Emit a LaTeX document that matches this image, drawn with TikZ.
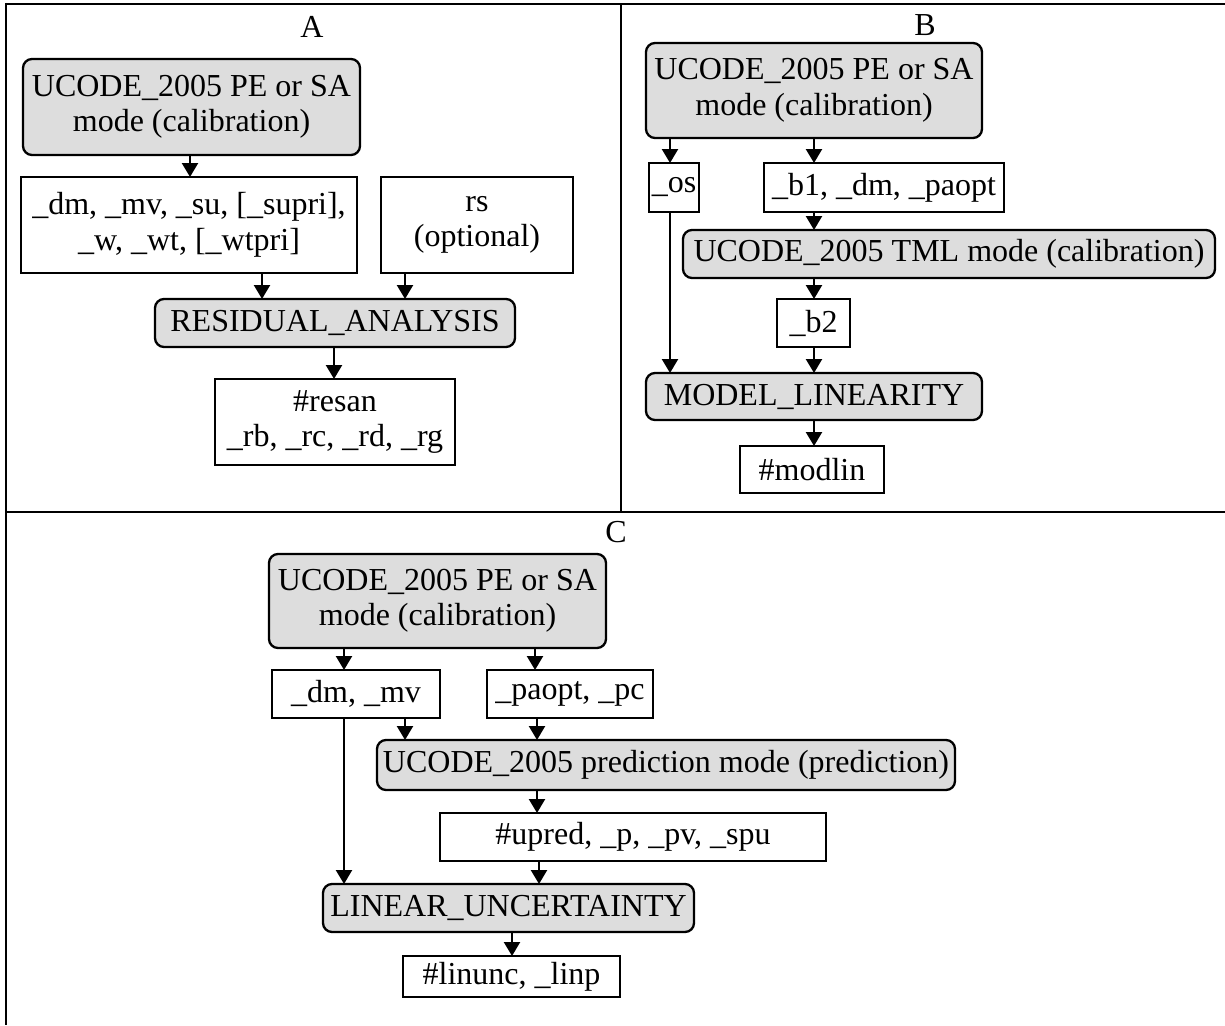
\documentclass[tikz,border=0pt]{standalone}
\usepackage{fontspec}
\setmainfont{Liberation Serif}
\usetikzlibrary{arrows.meta}
\definecolor{boxgray}{HTML}{DDDDDD}
\begin{document}
\begin{tikzpicture}[x=1pt,y=-1pt,
  every node/.style={inner sep=0pt, outer sep=0pt, font=\fontsize{32}{35.5}\selectfont},
  gbox/.style={draw, line width=2.3pt, fill=boxgray, rounded corners=9pt, align=center},
  wbox/.style={draw, line width=2.3pt, fill=white, align=center},
  arr/.style={line width=2.3pt, -{Triangle[length=14pt,width=16pt]}},
  frameline/.style={line width=2.5pt}]
\useasboundingbox (0,0) rectangle (1225,1025);
% frame
\draw[frameline] (5,4) -- (1225,4);
\draw[frameline] (6,3) -- (6,1025);
\draw[frameline] (621,4) -- (621,512);
\draw[frameline] (6,512) -- (1225,512);
% panel labels
\node (labA) at (312,27) {A};
\node (labB) at (925,25) {B};
\node (labC) at (616,532) {C};
% ---------- panel A
\node[gbox, minimum width=337pt, minimum height=96pt] (ua) at (191.5,107) {UCODE\_2005 PE or SA\\mode (calibration)};
\node[wbox, minimum width=336pt, minimum height=96pt] (dma) at (189,225) {\_dm, \_mv, \_su, [\_supri],\\\_w, \_wt, [\_wtpri]};
\node[wbox, minimum width=192pt, minimum height=96pt] (rsa) at (477,225) {rs\\(optional)};
\node[gbox, minimum width=360pt, minimum height=48pt] (resa) at (335,323) {RESIDUAL\_ANALYSIS};
\node[wbox, minimum width=240pt, minimum height=86pt] (resan) at (335,422) {\#resan\\\_rb, \_rc, \_rd, \_rg};
\draw[arr] (ua.south -| 190,0) -- (dma.north -| 190,0);
\draw[arr] (dma.south -| 262,0) -- (resa.north -| 262,0);
\draw[arr] (rsa.south -| 405,0) -- (resa.north -| 405,0);
\draw[arr] (resa.south -| 334,0) -- (resan.north -| 334,0);
% ---------- panel B
\node[gbox, minimum width=336pt, minimum height=95pt] (ub) at (814,90.5) {UCODE\_2005 PE or SA\\mode (calibration)};
\node[wbox, minimum width=50pt, minimum height=49pt] (osb) at (674,187.5) {\_os};
\node[wbox, minimum width=240pt, minimum height=49pt] (b1) at (884,187.5) {\_b1, \_dm, \_paopt};
\node[gbox, minimum width=532pt, minimum height=48pt] (tml) at (949,254) {UCODE\_2005 TML mode (calibration)};
\node[wbox, minimum width=73pt, minimum height=48pt] (b2) at (813.5,323) {\_b2};
\node[gbox, minimum width=336pt, minimum height=47pt] (ml) at (814,396.5) {MODEL\_LINEARITY};
\node[wbox, minimum width=144pt, minimum height=47pt] (modlin) at (812,469.5) {\#modlin};
\draw[arr] (ub.south -| 670,0) -- (osb.north -| 670,0);
\draw[arr] (ub.south -| 814,0) -- (b1.north -| 814,0);
\draw[arr] (b1.south -| 814,0) -- (tml.north -| 814,0);
\draw[arr] (tml.south -| 814,0) -- (b2.north -| 814,0);
\draw[arr] (osb.south -| 670,0) -- (ml.north -| 670,0);
\draw[arr] (b2.south -| 814,0) -- (ml.north -| 814,0);
\draw[arr] (ml.south -| 814,0) -- (modlin.north -| 814,0);
% ---------- panel C
\node[gbox, minimum width=337pt, minimum height=94pt] (uc) at (437.5,601) {UCODE\_2005 PE or SA\\mode (calibration)};
\node[wbox, minimum width=168pt, minimum height=48pt] (dmc) at (356,694) {\_dm, \_mv};
\node[wbox, minimum width=166pt, minimum height=48pt] (pcc) at (570,694) {\_paopt, \_pc};
\node[gbox, minimum width=578pt, minimum height=50pt] (pred) at (666,765) {UCODE\_2005 prediction mode (prediction)};
\node[wbox, minimum width=386pt, minimum height=48pt] (upred) at (633,837) {\#upred, \_p, \_pv, \_spu};
\node[gbox, minimum width=371pt, minimum height=48pt] (lu) at (508.5,908) {LINEAR\_UNCERTAINTY};
\node[wbox, minimum width=217pt, minimum height=41pt] (linunc) at (511.5,976.5) {\#linunc, \_linp};
\draw[arr] (uc.south -| 344,0) -- (dmc.north -| 344,0);
\draw[arr] (uc.south -| 535,0) -- (pcc.north -| 535,0);
\draw[arr] (dmc.south -| 405,0) -- (pred.north -| 405,0);
\draw[arr] (pcc.south -| 537,0) -- (pred.north -| 537,0);
\draw[arr] (pred.south -| 537,0) -- (upred.north -| 537,0);
\draw[arr] (upred.south -| 539,0) -- (lu.north -| 539,0);
\draw[arr] (dmc.south -| 344,0) -- (lu.north -| 344,0);
\draw[arr] (lu.south -| 512,0) -- (linunc.north -| 512,0);
\end{tikzpicture}
\end{document}
